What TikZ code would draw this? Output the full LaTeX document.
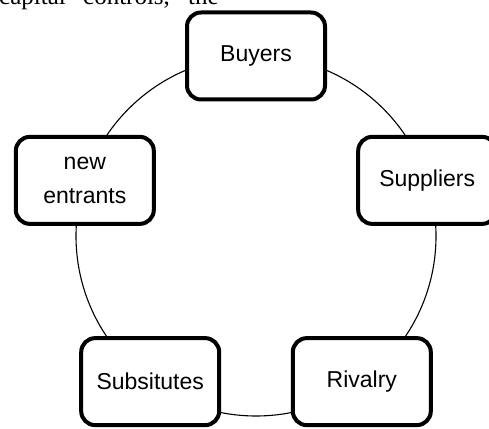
\documentclass[tikz,border=0pt]{standalone}
\usepackage{fontspec}
\setmainfont{Liberation Sans}
\newfontfamily\bodyserif{Liberation Serif}
\usetikzlibrary{calc}
\tikzset{
  forcebox/.style={draw, line width=4pt, rounded corners=14pt, fill=white,
    minimum width=138pt, minimum height=87pt, inner sep=0pt, align=center,
    font=\fontsize{23}{34}\selectfont},
  ring/.style={draw, line width=1.1pt}
}
\begin{document}
\begin{tikzpicture}[x=1pt,y=1pt]
\useasboundingbox (0,0) rectangle (489,428);
\clip (0,0) rectangle (489,428);
\coordinate (c) at (256,192);
\draw[ring] (c) circle (180pt);
\node[forcebox] (buyers) at ($(c)+(90:180pt)$) {Buyers};
\node[forcebox] (entrants) at ($(c)+(162:180pt)$) {new\\entrants};
\node[forcebox] (suppliers) at ($(c)+(18:180pt)$) {Suppliers};
\node[forcebox] (subs) at ($(c)+(234:180pt)$) {Subsitutes};
\node[forcebox] (rivalry) at ($(c)+(306:180pt)$) {Rivalry};
\node[anchor=base west, inner sep=0pt, font=\bodyserif\fontsize{25}{30}\selectfont] (txt) at (-1,423) {capital\hspace{17.3pt}controls,\hspace{18.2pt}the};
\end{tikzpicture}
\end{document}
